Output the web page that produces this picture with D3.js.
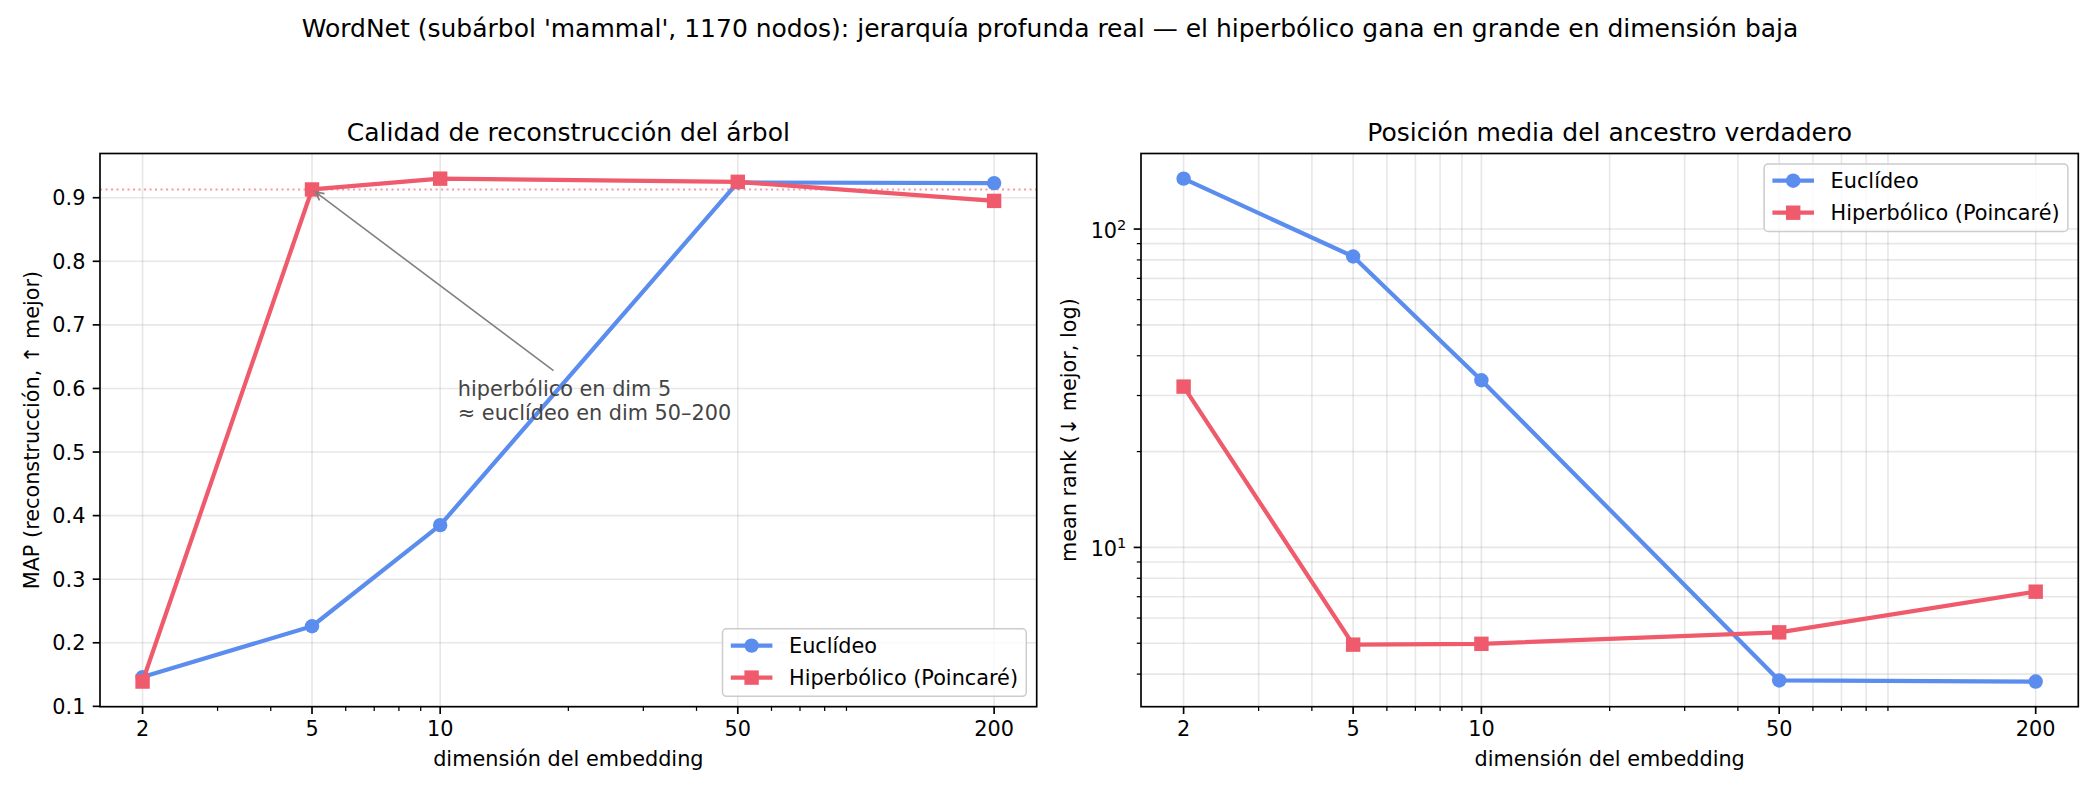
<!DOCTYPE html>
<html>
<head>
  <meta charset="utf-8">
  <title>WordNet mammal: euclídeo vs hiperbólico</title>
  <script src="https://d3js.org/d3.v7.min.js"></script>
  <style>
    body { margin: 0; background: #fff; }
    text { font-family: "DejaVu Sans", sans-serif; fill: #000; }
  </style>
</head>
<body>
  <script>
    // data
    var dims = [2, 5, 10, 50, 200];
    var mapEuc = [0.146, 0.226, 0.385, 0.924, 0.923];
    var mapHyp = [0.139, 0.913, 0.930, 0.925, 0.895];
    var rankEuc = [144, 82, 33.5, 3.82, 3.79];
    var rankHyp = [32.0, 4.95, 4.98, 5.41, 7.26];

    var xTicks = [2, 5, 10, 50, 200];
    var mapTicks = [0.1, 0.2, 0.3, 0.4, 0.5, 0.6, 0.7, 0.8, 0.9];
    var rankTicks = [10, 100];
    var rankTickLabels = [["10", "1"], ["10", "2"]];

    var seriesNames = ["Euclídeo", "Hiperbólico (Poincaré)"];
    var colors = ["#5b8def", "#ef5b6c"];

    var suptitle = "WordNet (subárbol 'mammal', 1170 nodos): jerarquía profunda real — el hiperbólico gana en grande en dimensión baja";
    var annotLines = ["hiperbólico en dim 5", "≈ euclídeo en dim 50–200"];
    var annotAt = [11, 0.55];   // text position (data coords)
    var annotTarget = [5, 0.913];

    var W = 2100, H = 795;
    var FS = 20.8;       // 10pt at 150 dpi
    var axTop = 153.5, axBottom = 706.7;
    var panels = [
      { x0: 100, x1: 1036.7 },
      { x0: 1141, x1: 2078.3 }
    ];

    var svg = d3.select("body").append("svg")
      .attr("width", W)
      .attr("height", H);

    svg.append("rect").attr("width", W).attr("height", H).attr("fill", "#fff");

    // matplotlib style auto margins (5%)
    function padLin(vals) {
      var lo = d3.min(vals), hi = d3.max(vals), m = (hi - lo) * 0.05;
      return [lo - m, hi + m];
    }
    function padLog(vals) {
      var lo = Math.log10(d3.min(vals)), hi = Math.log10(d3.max(vals)), m = (hi - lo) * 0.05;
      return [Math.pow(10, lo - m), Math.pow(10, hi + m)];
    }
    function logMinor(domain, majors) {
      var out = [];
      for (var k = Math.floor(Math.log10(domain[0])); k <= Math.ceil(Math.log10(domain[1])); k++) {
        for (var m = 2; m <= 9; m++) {
          var v = m * Math.pow(10, k);
          if (v >= domain[0] && v <= domain[1] && majors.indexOf(v) < 0) out.push(v);
        }
      }
      return out;
    }

    svg.append("text")
      .attr("x", W / 2)
      .attr("y", 37.3)
      .attr("text-anchor", "middle")
      .style("font-size", "25px")
      .text(suptitle);

    function drawPanel(p, opts) {
      var g = svg.append("g");
      var x = d3.scaleLog().domain(padLog(dims)).range([p.x0, p.x1]);
      var y = opts.y;
      var xMinor = logMinor(x.domain(), xTicks);

      // grid
      var grid = g.append("g")
        .attr("stroke", "#b0b0b0")
        .attr("stroke-opacity", 0.3)
        .attr("stroke-width", 1.6);
      var vx = opts.minorGrid ? xTicks.concat(xMinor) : xTicks;
      grid.selectAll(".gx").data(vx).enter().append("line")
        .attr("x1", d => x(d)).attr("x2", d => x(d))
        .attr("y1", axTop).attr("y2", axBottom);
      var hy = opts.minorGrid ? opts.yTicks.concat(opts.yMinor) : opts.yTicks;
      grid.selectAll(".gy").data(hy).enter().append("line")
        .attr("x1", p.x0).attr("x2", p.x1)
        .attr("y1", d => y(d)).attr("y2", d => y(d));

      if (opts.extra) opts.extra(g, x, y);

      // series lines and markers
      opts.series.forEach(function(vals, si) {
        var pts = dims.map((d, i) => [x(d), y(vals[i])]);
        g.append("path")
          .attr("d", d3.line()(pts))
          .attr("fill", "none")
          .attr("stroke", colors[si])
          .attr("stroke-width", 4.2)
          .attr("stroke-linejoin", "round");
        if (si === 0) {
          g.selectAll(".m" + si).data(pts).enter().append("circle")
            .attr("cx", d => d[0]).attr("cy", d => d[1]).attr("r", 7.2)
            .attr("fill", colors[si]);
        } else {
          g.selectAll(".m" + si).data(pts).enter().append("rect")
            .attr("x", d => d[0] - 7.2).attr("y", d => d[1] - 7.2)
            .attr("width", 14.4).attr("height", 14.4)
            .attr("fill", colors[si]);
        }
      });

      // spines
      g.append("rect")
        .attr("x", p.x0).attr("y", axTop)
        .attr("width", p.x1 - p.x0).attr("height", axBottom - axTop)
        .attr("fill", "none").attr("stroke", "#000").attr("stroke-width", 1.67);

      // x ticks
      g.selectAll(".xt").data(xTicks).enter().append("line")
        .attr("x1", d => x(d)).attr("x2", d => x(d))
        .attr("y1", axBottom).attr("y2", axBottom + 7.3)
        .attr("stroke", "#000").attr("stroke-width", 1.67);
      g.selectAll(".xm").data(xMinor).enter().append("line")
        .attr("x1", d => x(d)).attr("x2", d => x(d))
        .attr("y1", axBottom).attr("y2", axBottom + 4.2)
        .attr("stroke", "#000").attr("stroke-width", 1.25);
      g.selectAll(".xl").data(xTicks).enter().append("text")
        .attr("x", d => x(d)).attr("y", axBottom + 29.3)
        .attr("text-anchor", "middle")
        .style("font-size", FS + "px")
        .text(d => d);

      // y ticks
      g.selectAll(".yt").data(opts.yTicks).enter().append("line")
        .attr("x1", p.x0 - 7.3).attr("x2", p.x0)
        .attr("y1", d => y(d)).attr("y2", d => y(d))
        .attr("stroke", "#000").attr("stroke-width", 1.67);
      if (opts.yMinor) {
        g.selectAll(".ym").data(opts.yMinor).enter().append("line")
          .attr("x1", p.x0 - 4.2).attr("x2", p.x0)
          .attr("y1", d => y(d)).attr("y2", d => y(d))
          .attr("stroke", "#000").attr("stroke-width", 1.25);
      }
      opts.yLabels(g, y, p.x0 - 14.6);

      // axis labels and title
      g.append("text")
        .attr("x", (p.x0 + p.x1) / 2).attr("y", 765.5)
        .attr("text-anchor", "middle")
        .style("font-size", FS + "px")
        .text("dimensión del embedding");
      g.append("text")
        .attr("transform", "translate(" + opts.yLabelX + "," + (axTop + axBottom) / 2 + ") rotate(-90)")
        .attr("text-anchor", "middle")
        .style("font-size", FS + "px")
        .text(opts.yTitle);
      g.append("text")
        .attr("x", (p.x0 + p.x1) / 2).attr("y", 141)
        .attr("text-anchor", "middle")
        .style("font-size", "25px")
        .text(opts.title);

      if (opts.annotate) opts.annotate(g, x, y);

      // legend
      var leg = g.append("g");
      var box = leg.append("rect")
        .attr("rx", 4).attr("ry", 4)
        .attr("fill", "#fff").attr("fill-opacity", 0.8)
        .attr("stroke", "#cccccc").attr("stroke-width", 1.5);
      var labels = seriesNames.map(function(name, i) {
        return leg.append("text")
          .attr("x", 8.3 + 41.6 + 16.6)
          .attr("y", 16.8 + i * 32 + 7.4)
          .style("font-size", FS + "px")
          .text(name);
      });
      seriesNames.forEach(function(name, i) {
        var cy = 16.8 + i * 32;
        leg.append("line")
          .attr("x1", 8.3).attr("x2", 8.3 + 41.6)
          .attr("y1", cy).attr("y2", cy)
          .attr("stroke", colors[i]).attr("stroke-width", 4.2);
        if (i === 0) {
          leg.append("circle").attr("cx", 8.3 + 20.8).attr("cy", cy).attr("r", 7.2).attr("fill", colors[i]);
        } else {
          leg.append("rect").attr("x", 8.3 + 20.8 - 7.2).attr("y", cy - 7.2)
            .attr("width", 14.4).attr("height", 14.4).attr("fill", colors[i]);
        }
      });
      var tw = d3.max(labels, t => t.node().getComputedTextLength());
      var bw = 8.3 + 41.6 + 16.6 + tw + 8.3, bh = 67.5;
      box.attr("width", bw).attr("height", bh);
      var lx = p.x1 - 10.4 - bw;
      var ly = opts.legendLoc === "lower right" ? axBottom - 10.4 - bh : axTop + 10.4;
      leg.attr("transform", "translate(" + lx + "," + ly + ")");
    }

    // left panel: MAP
    var yMap = d3.scaleLinear().domain(padLin(mapEuc.concat(mapHyp))).range([axBottom, axTop]);
    drawPanel(panels[0], {
      y: yMap,
      yTicks: mapTicks,
      yMinor: null,
      minorGrid: false,
      series: [mapEuc, mapHyp],
      title: "Calidad de reconstrucción del árbol",
      yTitle: "MAP (reconstrucción, ↑ mejor)",
      yLabelX: 38.5,
      legendLoc: "lower right",
      yLabels: function(g, y, xr) {
        g.selectAll(".yl").data(mapTicks).enter().append("text")
          .attr("x", xr).attr("y", d => y(d) + 7.6)
          .attr("text-anchor", "end")
          .style("font-size", FS + "px")
          .text(d => d3.format(".1f")(d));
      },
      extra: function(g, x, y) {
        // reference line at hyperbolic dim 5
        g.append("line")
          .attr("x1", panels[0].x0).attr("x2", panels[0].x1)
          .attr("y1", y(annotTarget[1])).attr("y2", y(annotTarget[1]))
          .attr("stroke", colors[1]).attr("stroke-opacity", 0.6)
          .attr("stroke-width", 2.1).attr("stroke-dasharray", "2.1,3.4");
      },
      annotate: function(g, x, y) {
        var t = g.append("text")
          .attr("x", x(annotAt[0]))
          .attr("y", y(annotAt[1]) - 24)
          .style("font-size", FS + "px")
          .style("fill", "#444");
        annotLines.forEach(function(s, i) {
          t.append("tspan").attr("x", x(annotAt[0])).attr("dy", i ? 24 : 0).text(s);
        });
        var bb = t.node().getBBox();
        var pad = 4.2;
        var cx = bb.x + bb.width / 2, cy = bb.y + bb.height / 2;
        var tx = x(annotTarget[0]), ty = y(annotTarget[1]);
        var dx = tx - cx, dy = ty - cy, len = Math.hypot(dx, dy);
        var ux = dx / len, uy = dy / len;
        // leave padded text box
        var hw = bb.width / 2 + pad, hh = bb.height / 2 + pad;
        var s = Math.min(Math.abs(hw / ux), Math.abs(hh / uy)) + 4.2;
        var sx = cx + ux * s, sy = cy + uy * s;
        var ex = tx - ux * 4.2, ey = ty - uy * 4.2;
        var hl = 8.3, hwid = 4.2;
        var bx = ex - ux * hl, by = ey - uy * hl;
        var arrow = g.append("g")
          .attr("stroke", "#808080").attr("stroke-width", 1.6).attr("fill", "none");
        arrow.append("line").attr("x1", sx).attr("y1", sy).attr("x2", ex).attr("y2", ey);
        arrow.append("path")
          .attr("d", "M" + (bx - uy * hwid) + "," + (by + ux * hwid) +
                     "L" + ex + "," + ey +
                     "L" + (bx + uy * hwid) + "," + (by - ux * hwid));
      }
    });

    // right panel: mean rank (log)
    var yRank = d3.scaleLog().domain(padLog(rankEuc.concat(rankHyp))).range([axBottom, axTop]);
    drawPanel(panels[1], {
      y: yRank,
      yTicks: rankTicks,
      yMinor: logMinor(yRank.domain(), rankTicks),
      minorGrid: true,
      series: [rankEuc, rankHyp],
      title: "Posición media del ancestro verdadero",
      yTitle: "mean rank (↓ mejor, log)",
      yLabelX: 1076,
      legendLoc: "upper right",
      yLabels: function(g, y, xr) {
        rankTicks.forEach(function(v, i) {
          var t = g.append("text")
            .attr("x", xr).attr("y", y(v) + 9)
            .attr("text-anchor", "end")
            .style("font-size", FS + "px");
          t.append("tspan").text(rankTickLabels[i][0]);
          t.append("tspan")
            .attr("dy", -8.5)
            .style("font-size", "14.6px")
            .text(rankTickLabels[i][1]);
        });
      }
    });
  </script>
</body>
</html>
